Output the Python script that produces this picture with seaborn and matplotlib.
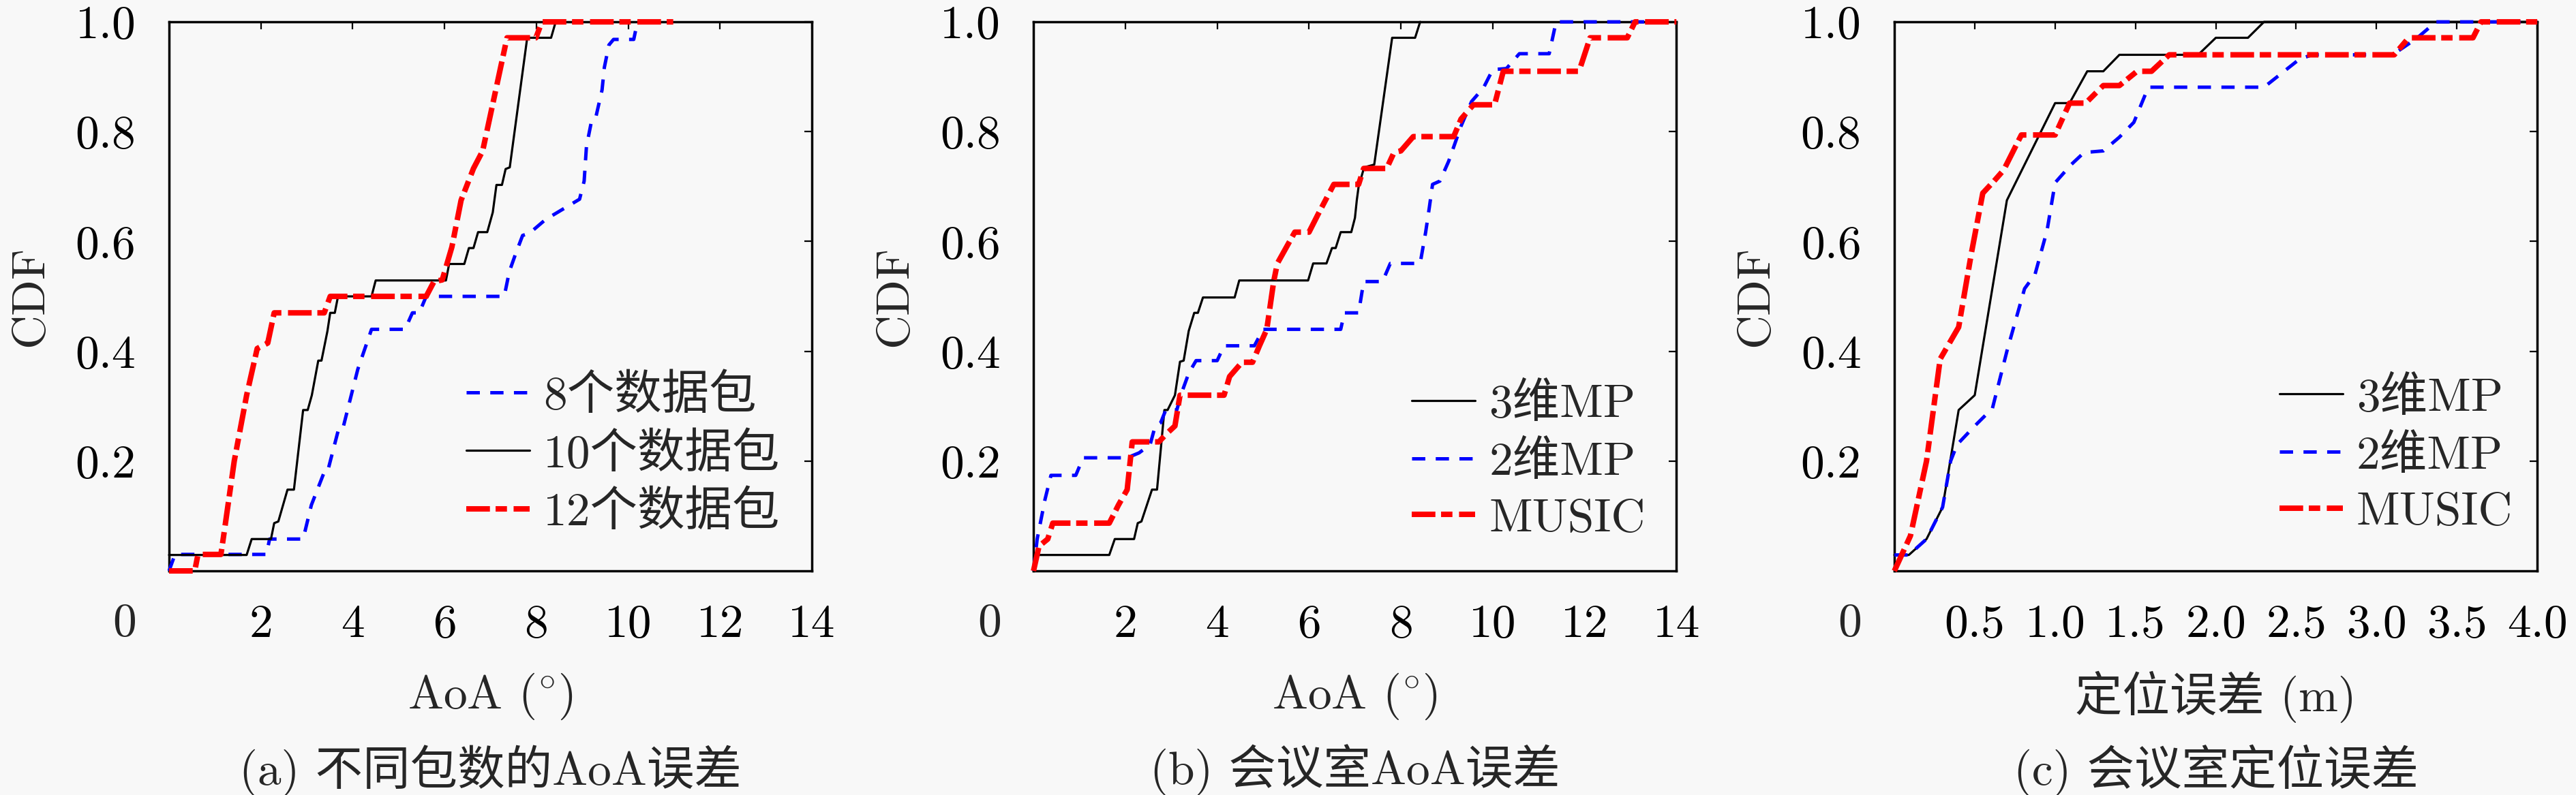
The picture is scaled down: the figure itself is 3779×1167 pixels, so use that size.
import matplotlib
matplotlib.use("Agg")
import matplotlib.pyplot as plt
import matplotlib.transforms as mtransforms
import seaborn as sns

# ---------------- data ----------------
# (a) AoA error for different packet counts
a_x_8 = [0, 0.13, 2.12, 2.19, 2.92, 3.1, 3.38, 3.45, 3.71, 3.8, 4.11, 4.41, 5.14, 5.3, 5.45, 5.6,
         7.30, 7.41, 7.55, 7.7, 7.85, 8.2, 8.6, 8.94, 9.04, 9.09, 9.19, 9.28, 9.43, 9.48, 9.58, 9.68,
         10.12, 10.2]
a_y_8 = [0, 0.03, 0.03, 0.058, 0.058, 0.12, 0.18, 0.18, 0.264, 0.264, 0.367, 0.44, 0.44, 0.47, 0.47, 0.5,
         0.5, 0.545, 0.578, 0.611, 0.615, 0.64, 0.66, 0.677, 0.71, 0.773, 0.815, 0.821, 0.876, 0.917, 0.958, 0.968,
         0.968, 1.0]
a_x_10 = [0, 1.69, 1.80, 2.22, 2.29, 2.38, 2.58, 2.72, 2.92, 3.02, 3.11, 3.25, 3.32, 3.45, 3.51, 3.61, 3.68,
          4.41, 4.5, 6.03, 6.1, 6.43, 6.53, 6.63, 6.73, 6.93, 7.05, 7.13, 7.25, 7.33, 7.42, 7.8, 8.32, 8.42]
a_y_10 = [0.029, 0.029, 0.058, 0.058, 0.087, 0.09, 0.148, 0.148, 0.293, 0.293, 0.32, 0.383, 0.383, 0.437,
          0.47, 0.47, 0.5, 0.5, 0.529, 0.529, 0.559, 0.559, 0.588, 0.588, 0.617, 0.617, 0.653, 0.703, 0.703,
          0.732, 0.735, 0.971, 0.971, 1.0]
a_x_12 = [0, 0.56, 0.63, 1.13, 1.2, 1.42, 1.69, 1.92, 2.15, 2.29, 3.38, 3.51, 5.6, 5.77, 5.95, 6.16, 6.36,
          6.63, 6.83, 7.36, 7.99, 8.12, 10.98]
a_y_12 = [0, 0, 0.03, 0.03, 0.07, 0.2, 0.32, 0.405, 0.415, 0.47, 0.47, 0.5, 0.5, 0.527, 0.53, 0.59, 0.675,
          0.733, 0.765, 0.971, 0.971, 1.0, 1.0]

# (b) meeting-room AoA error
b_x_3d = [0, 0.08, 1.65, 1.77, 2.19, 2.27, 2.35, 2.58, 2.69, 2.77, 2.85, 2.92, 3.08, 3.19, 3.27, 3.38, 3.5,
          3.58, 3.69, 4.38, 4.48, 5.98, 6.09, 6.38, 6.5, 6.58, 6.69, 6.92, 7.0, 7.04, 7.08, 7.2, 7.42, 7.81,
          8.31, 8.42]
b_y_3d = [0, 0.029, 0.029, 0.058, 0.058, 0.087, 0.09, 0.148, 0.148, 0.22, 0.293, 0.293, 0.32, 0.381, 0.383,
          0.437, 0.47, 0.47, 0.498, 0.498, 0.529, 0.529, 0.56, 0.56, 0.588, 0.588, 0.617, 0.617, 0.643, 0.675,
          0.70, 0.735, 0.74, 0.971, 0.971, 1.0]
b_x_2d = [0, 0.08, 0.25, 0.38, 0.92, 1.08, 2.04, 2.3, 2.54, 2.65, 2.77, 2.88, 3.12, 3.25, 3.38, 3.54, 4.0,
          4.15, 4.81, 5.0, 6.69, 6.77, 7.08, 7.19, 7.6, 7.77, 8.42, 8.54, 8.62, 8.69, 8.85, 9.04, 9.31, 9.54,
          9.8, 10.0, 10.3, 10.58, 11.23, 11.38, 14]
b_y_2d = [0, 0.058, 0.13, 0.174, 0.174, 0.206, 0.206, 0.215, 0.23, 0.264, 0.27, 0.293, 0.293, 0.33, 0.36,
          0.383, 0.383, 0.41, 0.41, 0.44, 0.44, 0.47, 0.47, 0.527, 0.527, 0.56, 0.56, 0.617, 0.662, 0.704,
          0.71, 0.746, 0.81, 0.855, 0.88, 0.913, 0.915, 0.942, 0.942, 1.0, 1.0]
b_x_mu = [0, 0.12, 0.31, 0.42, 1.65, 1.85, 2.04, 2.15, 2.73, 2.9, 3.08, 3.19, 4.15, 4.27, 4.54, 4.77, 4.92,
          5.08, 5.23, 5.31, 5.69, 6.0, 6.2, 6.54, 7.08, 7.19, 7.69, 7.85, 8.0, 8.27, 9.15, 9.31, 9.58, 10.04,
          10.23, 11.88, 12.12, 12.93, 13.1, 14]
b_y_mu = [0, 0.045, 0.058, 0.087, 0.087, 0.12, 0.148, 0.235, 0.235, 0.25, 0.264, 0.32, 0.32, 0.354, 0.38,
          0.38, 0.41, 0.44, 0.527, 0.56, 0.617, 0.617, 0.65, 0.704, 0.704, 0.733, 0.733, 0.762, 0.765, 0.791,
          0.791, 0.823, 0.849, 0.849, 0.91, 0.91, 0.971, 0.971, 1.0, 1.0]

# (c) meeting-room localisation error (m)
c_x_3d = [0, 0.09, 0.2, 0.3, 0.4, 0.5, 0.7, 1.0, 1.09, 1.2, 1.3, 1.4, 1.89, 2.0, 2.2, 2.3, 4.0]
c_y_3d = [0.029, 0.029, 0.058, 0.116, 0.293, 0.32, 0.675, 0.852, 0.852, 0.91, 0.91, 0.94, 0.94, 0.971,
          0.971, 1.0, 1.0]
c_x_2d = [0, 0.09, 0.2, 0.3, 0.35, 0.39, 0.5, 0.61, 0.7, 0.81, 0.875, 0.95, 1.0, 1.1, 1.18, 1.3, 1.4, 1.49,
          1.58, 2.3, 2.52, 2.6, 3.1, 3.25, 3.37, 4.0]
c_y_2d = [0.029, 0.029, 0.058, 0.116, 0.2, 0.23, 0.264, 0.296, 0.4, 0.514, 0.54, 0.62, 0.707, 0.74, 0.762,
          0.765, 0.79, 0.817, 0.881, 0.881, 0.932, 0.94, 0.94, 0.97, 1.0, 1.0]
c_x_mu = [0, 0.1, 0.2, 0.285, 0.4, 0.48, 0.55, 0.62, 0.68, 0.79, 1.0, 1.09, 1.19, 1.3, 1.4, 1.51, 1.6, 1.71,
          3.11, 3.2, 3.6, 3.65, 4.0]
c_y_mu = [0, 0.064, 0.2, 0.386, 0.444, 0.58, 0.688, 0.71, 0.73, 0.794, 0.794, 0.852, 0.852, 0.884, 0.884,
          0.91, 0.91, 0.94, 0.94, 0.971, 0.971, 1.0, 1.0]

labels_a = ["8个数据包", "10个数据包", "12个数据包"]
labels_bc = ["3维MP", "2维MP", "MUSIC"]
captions = ["(a) 不同包数的AoA误差", "(b) 会议室AoA误差", "(c) 会议室定位误差"]
xlabels = [r"AoA $(^{\circ})$", r"AoA $(^{\circ})$", "定位误差 (m)"]
ylabel = "CDF"
xticks_ab = [2, 4, 6, 8, 10, 12, 14]
xticklabels_ab = ["2", "4", "6", "8", "10", "12", "14"]
xticks_c = [0.5, 1.0, 1.5, 2.0, 2.5, 3.0, 3.5, 4.0]
xticklabels_c = ["0.5", "1.0", "1.5", "2.0", "2.5", "3.0", "3.5", "4.0"]
yticks = [0.2, 0.4, 0.6, 0.8, 1.0]
yticklabels = ["0.2", "0.4", "0.6", "0.8", "1.0"]

# ---------------- style ----------------
sns.set_theme(style="white")
BG = "#f8f8f8"
plt.rcParams.update({
    "font.family": ["cmr10", "Noto Sans CJK SC", "DejaVu Sans"],
    "mathtext.fontset": "cm",
    "axes.unicode_minus": False,
    "axes.formatter.use_mathtext": True,
    "lines.scale_dashes": False,
    "figure.facecolor": BG,
    "axes.facecolor": BG,
    "savefig.facecolor": BG,
})

FS = 50
BLACK = dict(color="black", linewidth=2.3, linestyle="-")
BLUE = dict(color="#0000ff", linewidth=3.6, linestyle=(0, (14, 11)))
RED = dict(color="#ff0000", linewidth=5.8, linestyle=(0, (25, 6, 12, 7)))

fig = plt.figure(figsize=(37.8, 11.67), dpi=100)
lefts = [0.0656, 0.4011, 0.7352]
width = 0.2495
bottom = 0.2819
height = 0.6906

panels = [
    [(a_x_8, a_y_8, BLUE, labels_a[0]), (a_x_10, a_y_10, BLACK, labels_a[1]), (a_x_12, a_y_12, RED, labels_a[2])],
    [(b_x_3d, b_y_3d, BLACK, labels_bc[0]), (b_x_2d, b_y_2d, BLUE, labels_bc[1]), (b_x_mu, b_y_mu, RED, labels_bc[2])],
    [(c_x_3d, c_y_3d, BLACK, labels_bc[0]), (c_x_2d, c_y_2d, BLUE, labels_bc[1]), (c_x_mu, c_y_mu, RED, labels_bc[2])],
]
legend_anchor = [(0.951, 0.213), (0.952, 0.200), (0.962, 0.212)]

for i, series in enumerate(panels):
    ax = fig.add_axes([lefts[i], bottom, width, height])
    for j, (xs, ys, sty, lab) in enumerate(series):
        sns.lineplot(x=xs, y=ys, ax=ax, sort=False, estimator=None, label=lab,
                     zorder=3 + j, clip_on=False, **sty)
    if i < 2:
        ax.set_xlim(0, 14)
        ax.set_xticks(xticks_ab, xticklabels_ab)
    else:
        ax.set_xlim(0, 4)
        ax.set_xticks(xticks_c, xticklabels_c)
    ax.set_ylim(0, 1)
    ax.set_yticks(yticks, yticklabels)
    for sp in ax.spines.values():
        sp.set_visible(True)
        sp.set_color("black")
        sp.set_linewidth(2.5)
    ax.tick_params(axis="both", direction="in", length=8, width=1.6, colors="black",
                   top=True, right=True, labelsize=FS)
    ax.tick_params(axis="x", pad=35)
    ax.tick_params(axis="y", pad=35)
    # shared origin label
    tr = mtransforms.offset_copy(ax.transAxes, fig=fig, x=-65 * 0.72, y=-77 * 0.72, units="points")
    ax.text(0, 0, "0", transform=tr, ha="center", va="center", fontsize=FS)

    ax.set_xlabel(xlabels[i], fontsize=FS)
    ax.xaxis.set_label_coords(0.5, -0.229)
    ax.xaxis.label.set_verticalalignment("center")
    ax.set_ylabel(ylabel, fontsize=FS)
    ax.yaxis.set_label_coords(-0.216, 0.5)
    ax.yaxis.label.set_verticalalignment("center")

    ax.text(0.5, -0.3635, captions[i], transform=ax.transAxes, ha="center", va="center", fontsize=FS)

    ax.legend(loc="center right", bbox_to_anchor=legend_anchor[i], frameon=False, fontsize=FS,
              handlelength=1.34, handletextpad=0.29, labelspacing=0.3, borderpad=0,
              borderaxespad=0)

fig.savefig("out.png", dpi=100)
